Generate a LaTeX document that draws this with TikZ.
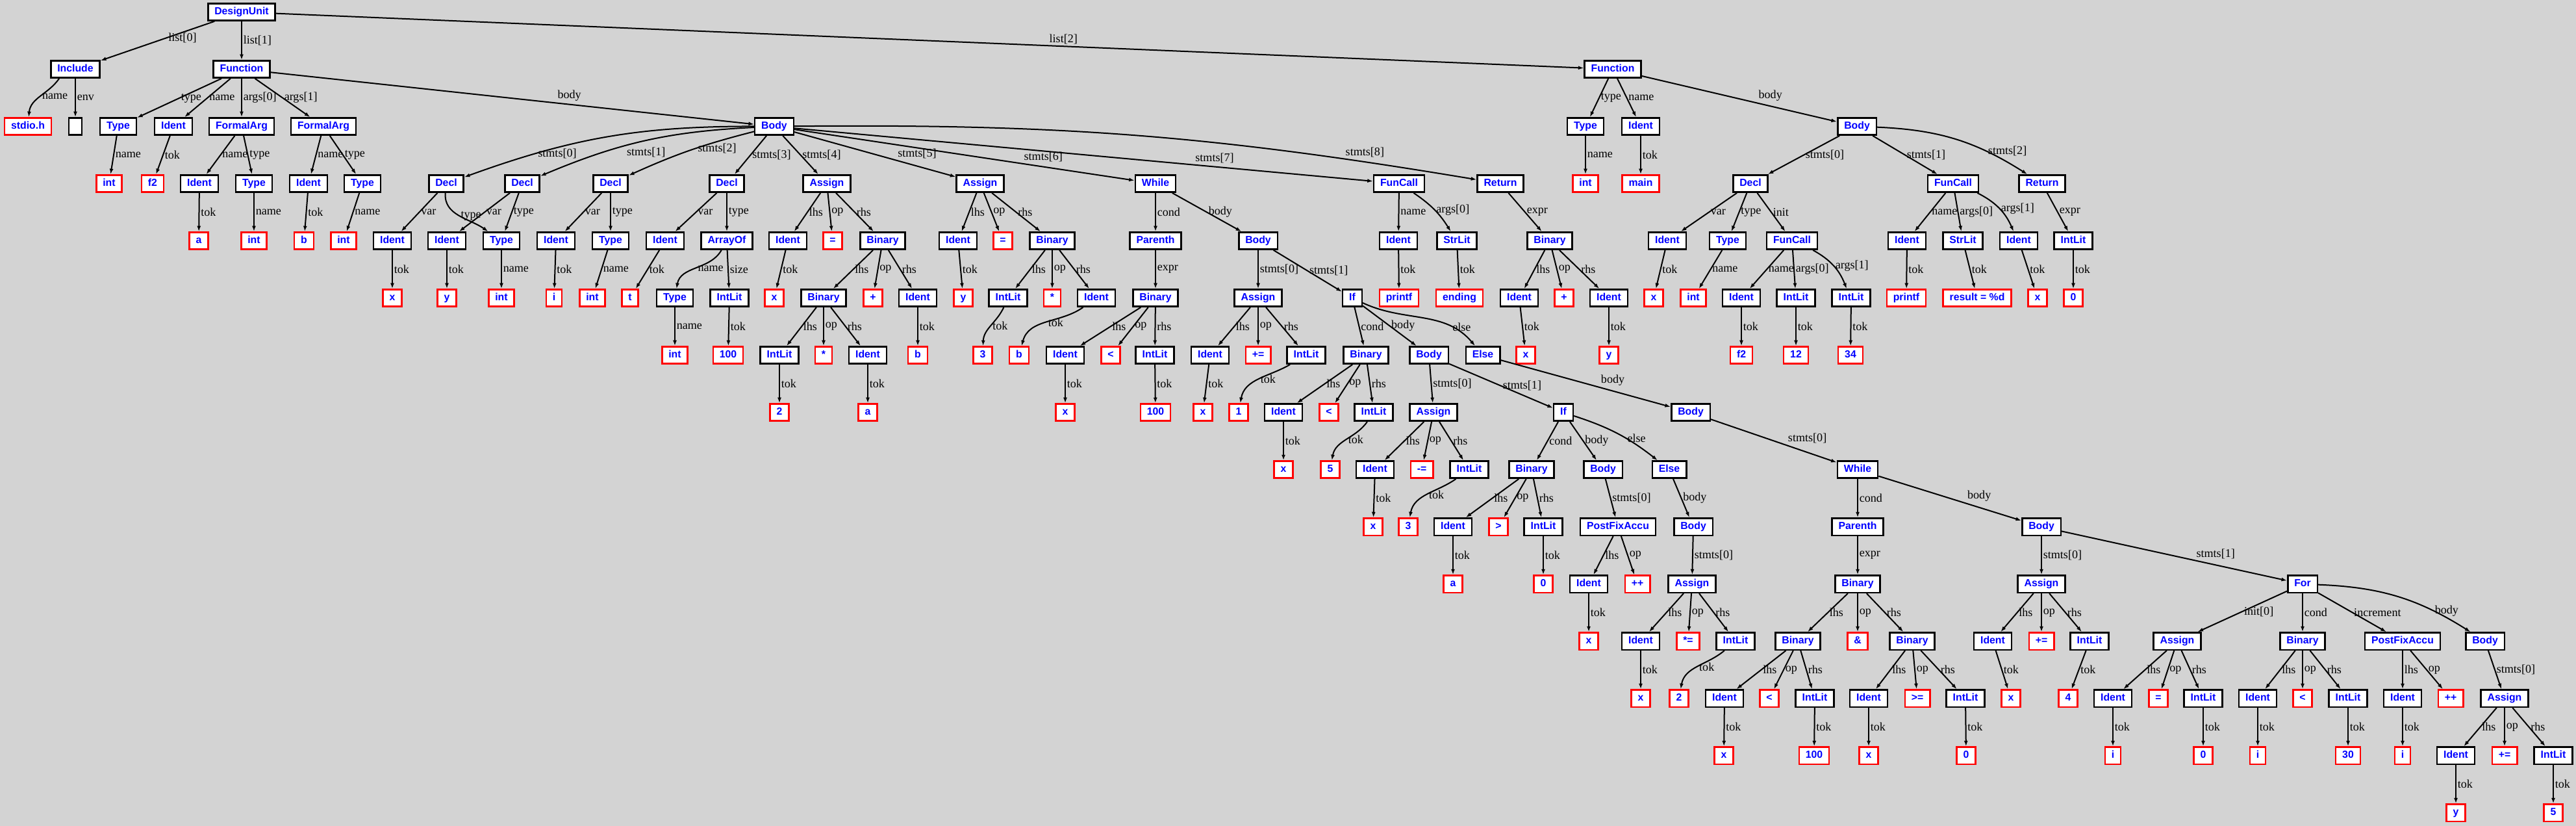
\documentclass[tikz,border=0pt]{standalone}
\usepackage{fontspec}
\setmainfont{Liberation Serif}
\newfontfamily\nodefont{Liberation Sans}
\usetikzlibrary{arrows.meta}
\definecolor{bggray}{RGB}{211,211,211}

\begin{document}
\begin{tikzpicture}[
  x=0.02cm, y=1.7607cm,
  ast/.style = {
    draw=black,
    shape=rectangle,
    fill=white,
    line width=0.05cm,
    minimum height=0.525cm,
    inner xsep=0.2cm,
    inner ysep=0pt,
    text height=6.6pt,
    text depth=1.9pt,
    text=blue,
    font=\nodefont\bfseries\fontsize{9}{10}\selectfont
  },
  leaf/.style = {ast, draw=red},
  link/.style = {-{Latex[length=0.17cm,width=0.12cm]}, line width=0.04cm},
  lbl/.style = {midway, right, inner sep=1pt, font=\fontsize{10.3}{12}\selectfont},
]
  \path[use as bounding box, fill=bggray] (0,0.21) rectangle (3966,-14.226);

  % row 0
  \node (du)[ast] at (372,0) {DesignUnit};
  % row 1
  \node (inc)[ast] at (116,-1) {Include};
  \node (fa)[ast] at (372,-1) {Function};
  \node (fb)[ast] at (2483,-1) {Function};
  % row 2
  \node (incn)[leaf] at (43,-2) {stdio.h};
  \node (ince)[ast] at (116,-2) {};
  \node (fat)[ast] at (182,-2) {Type};
  \node (fan)[ast] at (267,-2) {Ident};
  \node (faa0)[ast] at (372,-2) {FormalArg};
  \node (faa1)[ast] at (498,-2) {FormalArg};
  \node (ba)[ast] at (1192,-2) {Body};
  \node (fbt)[ast] at (2441,-2) {Type};
  \node (fbn)[ast] at (2526,-2) {Ident};
  \node (bb)[ast] at (2859,-2) {Body};
  % row 3
  \node (fatk)[leaf] at (168,-3) {int};
  \node (fank)[leaf] at (235,-3) {f2};
  \node (a0n)[ast] at (307,-3) {Ident};
  \node (a0t)[ast] at (391,-3) {Type};
  \node (a1n)[ast] at (475,-3) {Ident};
  \node (a1t)[ast] at (558,-3) {Type};
  \node (d0)[ast] at (687,-3) {Decl};
  \node (d1)[ast] at (804,-3) {Decl};
  \node (d2)[ast] at (940,-3) {Decl};
  \node (d3)[ast] at (1119,-3) {Decl};
  \node (s4)[ast] at (1273,-3) {Assign};
  \node (s5)[ast] at (1509,-3) {Assign};
  \node (s6)[ast] at (1779,-3) {While};
  \node (s7)[ast] at (2154,-3) {FunCall};
  \node (s8)[ast] at (2310,-3) {Return};
  \node (fbtk)[leaf] at (2441,-3) {int};
  \node (fbnk)[leaf] at (2526,-3) {main};
  \node (e0)[ast] at (2695,-3) {Decl};
  \node (e1)[ast] at (3007,-3) {FunCall};
  \node (e2)[ast] at (3144,-3) {Return};
  % row 4
  \node (a0nk)[leaf] at (306,-4) {a};
  \node (a0tk)[leaf] at (391,-4) {int};
  \node (a1nk)[leaf] at (468,-4) {b};
  \node (a1tk)[leaf] at (529,-4) {int};
  \node (d0v)[ast] at (604,-4) {Ident};
  \node (d1v)[ast] at (688,-4) {Ident};
  \node (d01t)[ast] at (772,-4) {Type};
  \node (d2v)[ast] at (856,-4) {Ident};
  \node (d2t)[ast] at (940,-4) {Type};
  \node (d3v)[ast] at (1024,-4) {Ident};
  \node (d3t)[ast] at (1119,-4) {ArrayOf};
  \node (s4l)[ast] at (1213,-4) {Ident};
  \node (s4o)[leaf] at (1282,-4) {=};
  \node (s4r)[ast] at (1359,-4) {Binary};
  \node (s5l)[ast] at (1475,-4) {Ident};
  \node (s5o)[leaf] at (1544,-4) {=};
  \node (s5r)[ast] at (1620,-4) {Binary};
  \node (s6c)[ast] at (1779,-4) {Parenth};
  \node (s6b)[ast] at (1937,-4) {Body};
  \node (s7n)[ast] at (2153,-4) {Ident};
  \node (s7a)[ast] at (2243,-4) {StrLit};
  \node (s8e)[ast] at (2386,-4) {Binary};
  \node (e0v)[ast] at (2567,-4) {Ident};
  \node (e0t)[ast] at (2660,-4) {Type};
  \node (e0i)[ast] at (2759,-4) {FunCall};
  \node (e1n)[ast] at (2936,-4) {Ident};
  \node (e1a0)[ast] at (3022,-4) {StrLit};
  \node (e1a1)[ast] at (3108,-4) {Ident};
  \node (e2e)[ast] at (3192,-4) {IntLit};
  % row 5
  \node (d0vk)[leaf] at (604,-5) {x};
  \node (d1vk)[leaf] at (688,-5) {y};
  \node (d01tk)[leaf] at (772,-5) {int};
  \node (d2vk)[leaf] at (853,-5) {i};
  \node (d2tk)[leaf] at (912,-5) {int};
  \node (d3vk)[leaf] at (970,-5) {t};
  \node (d3tn)[ast] at (1039,-5) {Type};
  \node (d3ts)[ast] at (1123,-5) {IntLit};
  \node (s4lk)[leaf] at (1192,-5) {x};
  \node (s4rl)[ast] at (1268,-5) {Binary};
  \node (s4ro)[leaf] at (1344,-5) {+};
  \node (s4rr)[ast] at (1413,-5) {Ident};
  \node (s5lk)[leaf] at (1483,-5) {y};
  \node (s5rl)[ast] at (1552,-5) {IntLit};
  \node (s5ro)[leaf] at (1620,-5) {*};
  \node (s5rr)[ast] at (1688,-5) {Ident};
  \node (s6e)[ast] at (1779,-5) {Binary};
  \node (w0)[ast] at (1937,-5) {Assign};
  \node (w1)[ast] at (2082,-5) {If};
  \node (s7nk)[leaf] at (2154,-5) {printf};
  \node (s7ak)[leaf] at (2247,-5) {ending};
  \node (s8l)[ast] at (2339,-5) {Ident};
  \node (s8o)[leaf] at (2408,-5) {+};
  \node (s8r)[ast] at (2477,-5) {Ident};
  \node (e0vk)[leaf] at (2546,-5) {x};
  \node (e0tk)[leaf] at (2607,-5) {int};
  \node (e0in)[ast] at (2681,-5) {Ident};
  \node (e0ia0)[ast] at (2765,-5) {IntLit};
  \node (e0ia1)[ast] at (2850,-5) {IntLit};
  \node (e1nk)[leaf] at (2935,-5) {printf};
  \node (e1a0k)[leaf] at (3044,-5) {result = \%d};
  \node (e1a1k)[leaf] at (3137,-5) {x};
  \node (e2ek)[leaf] at (3192,-5) {0};
  % row 6
  \node (d3tnk)[leaf] at (1039,-6) {int};
  \node (d3tsk)[leaf] at (1121,-6) {100};
  \node (s4rll)[ast] at (1200,-6) {IntLit};
  \node (s4rlo)[leaf] at (1268,-6) {*};
  \node (s4rlr)[ast] at (1336,-6) {Ident};
  \node (s4rrk)[leaf] at (1413,-6) {b};
  \node (s5rlk)[leaf] at (1513,-6) {3};
  \node (s5rrk)[leaf] at (1569,-6) {b};
  \node (s6el)[ast] at (1640,-6) {Ident};
  \node (s6eo)[leaf] at (1710,-6) {<};
  \node (s6er)[ast] at (1778,-6) {IntLit};
  \node (w0l)[ast] at (1863,-6) {Ident};
  \node (w0o)[leaf] at (1937,-6) {+=};
  \node (w0r)[ast] at (2011,-6) {IntLit};
  \node (w1c)[ast] at (2103,-6) {Binary};
  \node (w1b)[ast] at (2200,-6) {Body};
  \node (w1e)[ast] at (2283,-6) {Else};
  \node (s8lk)[leaf] at (2349,-6) {x};
  \node (s8rk)[leaf] at (2477,-6) {y};
  \node (e0ink)[leaf] at (2681,-6) {f2};
  \node (e0ia0k)[leaf] at (2765,-6) {12};
  \node (e0ia1k)[leaf] at (2849,-6) {34};
  % row 7
  \node (s4rllk)[leaf] at (1200,-7) {2};
  \node (s4rlrk)[leaf] at (1336,-7) {a};
  \node (s6elk)[leaf] at (1640,-7) {x};
  \node (s6erk)[leaf] at (1779,-7) {100};
  \node (w0lk)[leaf] at (1852,-7) {x};
  \node (w0rk)[leaf] at (1907,-7) {1};
  \node (w1cl)[ast] at (1976,-7) {Ident};
  \node (w1co)[leaf] at (2046,-7) {<};
  \node (w1cr)[ast] at (2115,-7) {IntLit};
  \node (b0)[ast] at (2207,-7) {Assign};
  \node (b1)[ast] at (2407,-7) {If};
  \node (eb)[ast] at (2603,-7) {Body};
  % row 8
  \node (w1clk)[leaf] at (1976,-8) {x};
  \node (w1crk)[leaf] at (2048,-8) {5};
  \node (b0l)[ast] at (2117,-8) {Ident};
  \node (b0o)[leaf] at (2189,-8) {-=};
  \node (b0r)[ast] at (2262,-8) {IntLit};
  \node (b1c)[ast] at (2358,-8) {Binary};
  \node (b1b)[ast] at (2468,-8) {Body};
  \node (b1e)[ast] at (2570,-8) {Else};
  \node (ew)[ast] at (2860,-8) {While};
  % row 9
  \node (b0lk)[leaf] at (2114,-9) {x};
  \node (b0rk)[leaf] at (2168,-9) {3};
  \node (b1cl)[ast] at (2237,-9) {Ident};
  \node (b1co)[leaf] at (2307,-9) {>};
  \node (b1cr)[ast] at (2376,-9) {IntLit};
  \node (pf)[ast] at (2491,-9) {PostFixAccu};
  \node (eb2)[ast] at (2607,-9) {Body};
  \node (ewc)[ast] at (2860,-9) {Parenth};
  \node (ewb)[ast] at (3143,-9) {Body};
  % row 10
  \node (b1clk)[leaf] at (2237,-10) {a};
  \node (b1crk)[leaf] at (2376,-10) {0};
  \node (pfl)[ast] at (2446,-10) {Ident};
  \node (pfo)[leaf] at (2521,-10) {++};
  \node (ea)[ast] at (2605,-10) {Assign};
  \node (ewe)[ast] at (2860,-10) {Binary};
  \node (wa)[ast] at (3143,-10) {Assign};
  \node (fr)[ast] at (3545,-10) {For};
  % row 11
  \node (pflk)[leaf] at (2446,-11) {x};
  \node (eal)[ast] at (2526,-11) {Ident};
  \node (eao)[leaf] at (2599,-11) {*=};
  \node (ear)[ast] at (2672,-11) {IntLit};
  \node (ewl)[ast] at (2768,-11) {Binary};
  \node (ewo)[leaf] at (2860,-11) {\&};
  \node (ewr)[ast] at (2944,-11) {Binary};
  \node (wal)[ast] at (3068,-11) {Ident};
  \node (wao)[leaf] at (3143,-11) {+=};
  \node (war)[ast] at (3217,-11) {IntLit};
  \node (fri)[ast] at (3352,-11) {Assign};
  \node (frc)[ast] at (3545,-11) {Binary};
  \node (frn)[ast] at (3699,-11) {PostFixAccu};
  \node (frb)[ast] at (3826,-11) {Body};
  % row 12
  \node (ealk)[leaf] at (2526,-12) {x};
  \node (eark)[leaf] at (2585,-12) {2};
  \node (ewll)[ast] at (2655,-12) {Ident};
  \node (ewlo)[leaf] at (2724,-12) {<};
  \node (ewlr)[ast] at (2794,-12) {IntLit};
  \node (ewrl)[ast] at (2877,-12) {Ident};
  \node (ewro)[leaf] at (2952,-12) {>=};
  \node (ewrr)[ast] at (3026,-12) {IntLit};
  \node (walk)[leaf] at (3096,-12) {x};
  \node (wark)[leaf] at (3184,-12) {4};
  \node (fril)[ast] at (3253,-12) {Ident};
  \node (frio)[leaf] at (3323,-12) {=};
  \node (frir)[ast] at (3392,-12) {IntLit};
  \node (frcl)[ast] at (3476,-12) {Ident};
  \node (frco)[leaf] at (3545,-12) {<};
  \node (frcr)[ast] at (3615,-12) {IntLit};
  \node (frnl)[ast] at (3699,-12) {Ident};
  \node (frno)[leaf] at (3773,-12) {++};
  \node (fba)[ast] at (3856,-12) {Assign};
  % row 13
  \node (ewllk)[leaf] at (2654,-13) {x};
  \node (ewlrk)[leaf] at (2793,-13) {100};
  \node (ewrlk)[leaf] at (2877,-13) {x};
  \node (ewrrk)[leaf] at (3027,-13) {0};
  \node (frilk)[leaf] at (3253,-13) {i};
  \node (frirk)[leaf] at (3392,-13) {0};
  \node (frclk)[leaf] at (3476,-13) {i};
  \node (frcrk)[leaf] at (3615,-13) {30};
  \node (frnlk)[leaf] at (3699,-13) {i};
  \node (fbal)[ast] at (3781,-13) {Ident};
  \node (fbao)[leaf] at (3856,-13) {+=};
  \node (fbar)[ast] at (3931,-13) {IntLit};
  % row 14
  \node (fbalk)[leaf] at (3781,-14) {y};
  \node (fbark)[leaf] at (3931,-14) {5};

  % top
  \draw[link] (du) -- (inc) node[lbl, pos=0.42] {list[0]};
  \draw[link] (du) -- (fa) node[lbl] {list[1]};
  \draw[link] (du) -- (fb) node[lbl, pos=0.59, above right] {list[2]};
  \draw[link] (inc.-150) to[out=-125,in=85] node[lbl] {name} (incn);
  \draw[link] (inc) -- (ince) node[lbl] {env};

  % function f2
  \draw[link] (fa) -- (fat) node[lbl] {type};
  \draw[link] (fa) -- (fan) node[lbl] {name};
  \draw[link] (fa) -- (faa0) node[lbl] {args[0]};
  \draw[link] (fa) -- (faa1) node[lbl] {args[1]};
  \draw[link] (fa) -- (ba) node[lbl, pos=0.59, above right] {body};
  \draw[link] (fat) -- (fatk) node[lbl] {name};
  \draw[link] (fan) -- (fank) node[lbl] {tok};
  \draw[link] (faa0) -- (a0n) node[lbl] {name};
  \draw[link] (faa0) -- (a0t) node[lbl] {type};
  \draw[link] (faa1) -- (a1n) node[lbl] {name};
  \draw[link] (faa1) -- (a1t) node[lbl] {type};
  \draw[link] (a0n) -- (a0nk) node[lbl] {tok};
  \draw[link] (a0t) -- (a0tk) node[lbl] {name};
  \draw[link] (a1n) -- (a1nk) node[lbl] {tok};
  \draw[link] (a1t) -- (a1tk) node[lbl] {name};

  \draw[link] (ba) to[bend right=10] node[lbl, pos=0.76] {stmts[0]} (d0);
  \draw[link] (ba) to[bend right=10] node[lbl, pos=0.6, below right] {stmts[1]} (d1);
  \draw[link] (ba) to[bend right=5] node[lbl, pos=0.45] {stmts[2]} (d2);
  \draw[link] (ba) -- (d3) node[lbl] {stmts[3]};
  \draw[link] (ba) -- (s4) node[lbl] {stmts[4]};
  \draw[link] (ba) -- (s5) node[lbl, pos=0.63, above right] {stmts[5]};
  \draw[link] (ba) -- (s6) node[lbl, pos=0.67, above right] {stmts[6]};
  \draw[link] (ba) -- (s7) node[lbl, pos=0.69, above right] {stmts[7]};
  \draw[link] (ba) to[bend left=5] node[lbl, pos=0.82, above right] {stmts[8]} (s8);

  \draw[link] (d0) -- (d0v) node[lbl] {var};
  \draw[link] (d0) to[out=-95,in=145] node[lbl] {type} (d01t);
  \draw[link] (d1) -- (d1v) node[lbl] {var};
  \draw[link] (d1) -- (d01t) node[lbl] {type};
  \draw[link] (d2) -- (d2v) node[lbl] {var};
  \draw[link] (d2) -- (d2t) node[lbl] {type};
  \draw[link] (d3) -- (d3v) node[lbl] {var};
  \draw[link] (d3) -- (d3t) node[lbl] {type};
  \draw[link] (d0v) -- (d0vk) node[lbl] {tok};
  \draw[link] (d1v) -- (d1vk) node[lbl] {tok};
  \draw[link] (d01t) -- (d01tk) node[lbl] {name};
  \draw[link] (d2v) -- (d2vk) node[lbl] {tok};
  \draw[link] (d2t) -- (d2tk) node[lbl] {name};
  \draw[link] (d3v) -- (d3vk) node[lbl] {tok};
  \draw[link] (d3t) to[out=-120,in=80] node[lbl] {name} (d3tn);
  \draw[link] (d3t) -- (d3ts) node[lbl] {size};
  \draw[link] (d3tn) -- (d3tnk) node[lbl] {name};
  \draw[link] (d3ts) -- (d3tsk) node[lbl] {tok};

  \draw[link] (s4) -- (s4l) node[lbl] {lhs};
  \draw[link] (s4) -- (s4o) node[lbl] {op};
  \draw[link] (s4) -- (s4r) node[lbl] {rhs};
  \draw[link] (s4l) -- (s4lk) node[lbl] {tok};
  \draw[link] (s4r) -- (s4rl) node[lbl] {lhs};
  \draw[link] (s4r) -- (s4ro) node[lbl] {op};
  \draw[link] (s4r) -- (s4rr) node[lbl] {rhs};
  \draw[link] (s4rr) -- (s4rrk) node[lbl] {tok};
  \draw[link] (s4rl) -- (s4rll) node[lbl] {lhs};
  \draw[link] (s4rl) -- (s4rlo) node[lbl] {op};
  \draw[link] (s4rl) -- (s4rlr) node[lbl] {rhs};
  \draw[link] (s4rll) -- (s4rllk) node[lbl] {tok};
  \draw[link] (s4rlr) -- (s4rlrk) node[lbl] {tok};

  \draw[link] (s5) -- (s5l) node[lbl] {lhs};
  \draw[link] (s5) -- (s5o) node[lbl] {op};
  \draw[link] (s5) -- (s5r) node[lbl] {rhs};
  \draw[link] (s5l) -- (s5lk) node[lbl] {tok};
  \draw[link] (s5r) -- (s5rl) node[lbl] {lhs};
  \draw[link] (s5r) -- (s5ro) node[lbl] {op};
  \draw[link] (s5r) -- (s5rr) node[lbl] {rhs};
  \draw[link] (s5rl) to[out=-115,in=88] node[lbl] {tok} (s5rlk);
  \draw[link] (s5rr) to[out=-145,in=75] node[lbl] {tok} (s5rrk);

  % while loop
  \draw[link] (s6) -- (s6c) node[lbl] {cond};
  \draw[link] (s6) -- (s6b) node[lbl] {body};
  \draw[link] (s6c) -- (s6e) node[lbl] {expr};
  \draw[link] (s6e) -- (s6el) node[lbl] {lhs};
  \draw[link] (s6e) -- (s6eo) node[lbl] {op};
  \draw[link] (s6e) -- (s6er) node[lbl] {rhs};
  \draw[link] (s6el) -- (s6elk) node[lbl] {tok};
  \draw[link] (s6er) -- (s6erk) node[lbl] {tok};
  \draw[link] (s6b) -- (w0) node[lbl] {stmts[0]};
  \draw[link] (s6b) -- (w1) node[lbl] {stmts[1]};
  \draw[link] (w0) -- (w0l) node[lbl] {lhs};
  \draw[link] (w0) -- (w0o) node[lbl] {op};
  \draw[link] (w0) -- (w0r) node[lbl] {rhs};
  \draw[link] (w0l) -- (w0lk) node[lbl] {tok};
  \draw[link] (w0r) to[out=-150,in=80] node[lbl] {tok} (w0rk);
  \draw[link] (w1) -- (w1c) node[lbl] {cond};
  \draw[link] (w1) -- (w1b) node[lbl] {body};
  \draw[link] (w1) to[out=-25,in=130] node[lbl, pos=0.75] {else} (w1e);
  \draw[link] (w1c) -- (w1cl) node[lbl] {lhs};
  \draw[link] (w1c) -- (w1co) node[lbl] {op};
  \draw[link] (w1c) -- (w1cr) node[lbl] {rhs};
  \draw[link] (w1cl) -- (w1clk) node[lbl] {tok};
  \draw[link] (w1cr) to[out=-125,in=80] node[lbl] {tok} (w1crk);
  \draw[link] (w1b) -- (b0) node[lbl] {stmts[0]};
  \draw[link] (w1b) -- (b1) node[lbl] {stmts[1]};
  \draw[link] (b0) -- (b0l) node[lbl] {lhs};
  \draw[link] (b0) -- (b0o) node[lbl] {op};
  \draw[link] (b0) -- (b0r) node[lbl] {rhs};
  \draw[link] (b0l) -- (b0lk) node[lbl] {tok};
  \draw[link] (b0r) to[out=-145,in=80] node[lbl] {tok} (b0rk);
  \draw[link] (b1) -- (b1c) node[lbl] {cond};
  \draw[link] (b1) -- (b1b) node[lbl] {body};
  \draw[link] (b1) to[bend left=10] node[lbl, pos=0.6] {else} (b1e);
  \draw[link] (b1c) -- (b1cl) node[lbl] {lhs};
  \draw[link] (b1c) -- (b1co) node[lbl] {op};
  \draw[link] (b1c) -- (b1cr) node[lbl] {rhs};
  \draw[link] (b1cl) -- (b1clk) node[lbl] {tok};
  \draw[link] (b1cr) -- (b1crk) node[lbl] {tok};
  \draw[link] (b1b) -- (pf) node[lbl] {stmts[0]};
  \draw[link] (pf) -- (pfl) node[lbl] {lhs};
  \draw[link] (pf) -- (pfo) node[lbl] {op};
  \draw[link] (pfl) -- (pflk) node[lbl] {tok};
  \draw[link] (b1e) -- (eb2) node[lbl] {body};
  \draw[link] (eb2) -- (ea) node[lbl] {stmts[0]};
  \draw[link] (ea) -- (eal) node[lbl] {lhs};
  \draw[link] (ea) -- (eao) node[lbl] {op};
  \draw[link] (ea) -- (ear) node[lbl] {rhs};
  \draw[link] (eal) -- (ealk) node[lbl] {tok};
  \draw[link] (ear) to[out=-140,in=80] node[lbl] {tok} (eark);

  \draw[link] (w1e) -- (eb) node[lbl, pos=0.58, above right] {body};
  \draw[link] (eb) -- (ew) node[lbl, pos=0.6, above right] {stmts[0]};
  \draw[link] (ew) -- (ewc) node[lbl] {cond};
  \draw[link] (ew) -- (ewb) node[lbl, pos=0.61, above right] {body};
  \draw[link] (ewc) -- (ewe) node[lbl] {expr};
  \draw[link] (ewe) -- (ewl) node[lbl] {lhs};
  \draw[link] (ewe) -- (ewo) node[lbl] {op};
  \draw[link] (ewe) -- (ewr) node[lbl] {rhs};
  \draw[link] (ewl) -- (ewll) node[lbl] {lhs};
  \draw[link] (ewl) -- (ewlo) node[lbl] {op};
  \draw[link] (ewl) -- (ewlr) node[lbl] {rhs};
  \draw[link] (ewll) -- (ewllk) node[lbl] {tok};
  \draw[link] (ewlr) -- (ewlrk) node[lbl] {tok};
  \draw[link] (ewr) -- (ewrl) node[lbl] {lhs};
  \draw[link] (ewr) -- (ewro) node[lbl] {op};
  \draw[link] (ewr) -- (ewrr) node[lbl] {rhs};
  \draw[link] (ewrl) -- (ewrlk) node[lbl] {tok};
  \draw[link] (ewrr) -- (ewrrk) node[lbl] {tok};
  \draw[link] (ewb) -- (wa) node[lbl] {stmts[0]};
  \draw[link] (ewb) -- (fr) node[lbl, pos=0.59, above right] {stmts[1]};
  \draw[link] (wa) -- (wal) node[lbl] {lhs};
  \draw[link] (wa) -- (wao) node[lbl] {op};
  \draw[link] (wa) -- (war) node[lbl] {rhs};
  \draw[link] (wal) -- (walk) node[lbl] {tok};
  \draw[link] (war) -- (wark) node[lbl] {tok};

  % for loop
  \draw[link] (fr) -- (fri) node[lbl] {init[0]};
  \draw[link] (fr) -- (frc) node[lbl] {cond};
  \draw[link] (fr) -- (frn) node[lbl] {increment};
  \draw[link] (fr) to[bend left=15] node[lbl, pos=0.75] {body} (frb);
  \draw[link] (fri) -- (fril) node[lbl] {lhs};
  \draw[link] (fri) -- (frio) node[lbl] {op};
  \draw[link] (fri) -- (frir) node[lbl] {rhs};
  \draw[link] (fril) -- (frilk) node[lbl] {tok};
  \draw[link] (frir) -- (frirk) node[lbl] {tok};
  \draw[link] (frc) -- (frcl) node[lbl] {lhs};
  \draw[link] (frc) -- (frco) node[lbl] {op};
  \draw[link] (frc) -- (frcr) node[lbl] {rhs};
  \draw[link] (frcl) -- (frclk) node[lbl] {tok};
  \draw[link] (frcr) -- (frcrk) node[lbl] {tok};
  \draw[link] (frn) -- (frnl) node[lbl] {lhs};
  \draw[link] (frn) -- (frno) node[lbl] {op};
  \draw[link] (frnl) -- (frnlk) node[lbl] {tok};
  \draw[link] (frb) -- (fba) node[lbl] {stmts[0]};
  \draw[link] (fba) -- (fbal) node[lbl] {lhs};
  \draw[link] (fba) -- (fbao) node[lbl] {op};
  \draw[link] (fba) -- (fbar) node[lbl] {rhs};
  \draw[link] (fbal) -- (fbalk) node[lbl] {tok};
  \draw[link] (fbar) -- (fbark) node[lbl] {tok};

  % call and return in f2
  \draw[link] (s7) -- (s7n) node[lbl] {name};
  \draw[link] (s7) to[bend left=12] node[lbl] {args[0]} (s7a);
  \draw[link] (s7n) -- (s7nk) node[lbl] {tok};
  \draw[link] (s7a) -- (s7ak) node[lbl] {tok};
  \draw[link] (s8) -- (s8e) node[lbl] {expr};
  \draw[link] (s8e) -- (s8l) node[lbl] {lhs};
  \draw[link] (s8e) -- (s8o) node[lbl] {op};
  \draw[link] (s8e) -- (s8r) node[lbl] {rhs};
  \draw[link] (s8l) -- (s8lk) node[lbl] {tok};
  \draw[link] (s8r) -- (s8rk) node[lbl] {tok};

  % function main
  \draw[link] (fb) -- (fbt) node[lbl] {type};
  \draw[link] (fb) -- (fbn) node[lbl] {name};
  \draw[link] (fb) -- (bb) node[lbl, pos=0.59, above right] {body};
  \draw[link] (fbt) -- (fbtk) node[lbl] {name};
  \draw[link] (fbn) -- (fbnk) node[lbl] {tok};
  \draw[link] (bb) -- (e0) node[lbl] {stmts[0]};
  \draw[link] (bb) -- (e1) node[lbl] {stmts[1]};
  \draw[link] (bb) to[bend left=15] node[lbl, pos=0.72] {stmts[2]} (e2);
  \draw[link] (e0) -- (e0v) node[lbl] {var};
  \draw[link] (e0) -- (e0t) node[lbl] {type};
  \draw[link] (e0) -- (e0i) node[lbl] {init};
  \draw[link] (e0v) -- (e0vk) node[lbl] {tok};
  \draw[link] (e0t) -- (e0tk) node[lbl] {name};
  \draw[link] (e0i) -- (e0in) node[lbl] {name};
  \draw[link] (e0i) -- (e0ia0) node[lbl] {args[0]};
  \draw[link] (e0i) to[bend left=20] node[lbl] {args[1]} (e0ia1);
  \draw[link] (e0in) -- (e0ink) node[lbl] {tok};
  \draw[link] (e0ia0) -- (e0ia0k) node[lbl] {tok};
  \draw[link] (e0ia1) -- (e0ia1k) node[lbl] {tok};
  \draw[link] (e1) -- (e1n) node[lbl] {name};
  \draw[link] (e1) -- (e1a0) node[lbl] {args[0]};
  \draw[link] (e1) to[bend left=20] node[lbl] {args[1]} (e1a1);
  \draw[link] (e1n) -- (e1nk) node[lbl] {tok};
  \draw[link] (e1a0) -- (e1a0k) node[lbl] {tok};
  \draw[link] (e1a1) -- (e1a1k) node[lbl] {tok};
  \draw[link] (e2) -- (e2e) node[lbl] {expr};
  \draw[link] (e2e) -- (e2ek) node[lbl] {tok};
\end{tikzpicture}
\end{document}
